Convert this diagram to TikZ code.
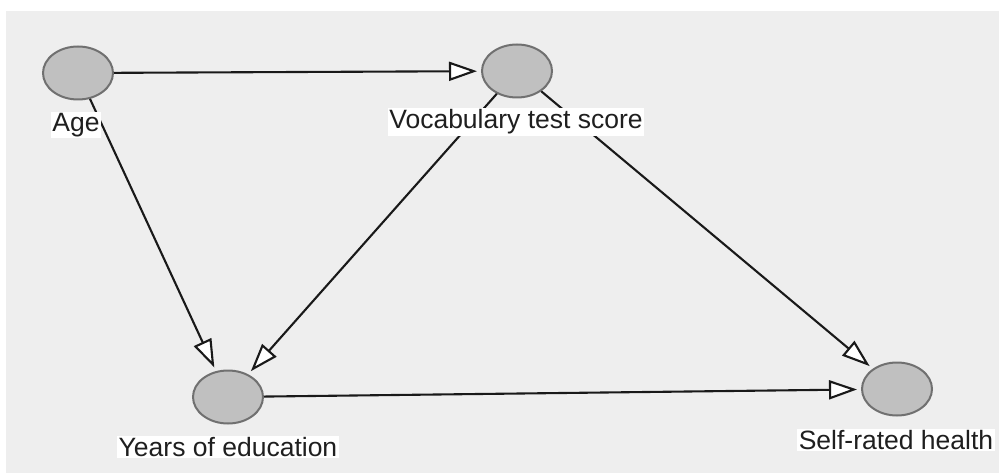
\documentclass[tikz,border=0pt]{standalone}
\usepackage{fontspec}
\setmainfont{Liberation Sans}
\usetikzlibrary{shapes.geometric,arrows.meta}
\definecolor{bggray}{HTML}{EEEEEE}
\definecolor{nodefill}{HTML}{C0C0C0}
\definecolor{nodeline}{HTML}{707070}
\tikzset{
  var/.style={ellipse,draw=nodeline,line width=2pt,fill=nodefill,minimum width=70pt,minimum height=53pt,inner sep=0pt},
  lbl/.style={fill=white,inner sep=1.5pt,font=\fontsize{26.5}{29}\selectfont,text=black!88},
  edge/.style={line width=2.1pt,black!90,shorten >=4pt,-{Triangle[length=28pt,width=19pt,fill=white,line width=2.1pt]}}
}
\begin{document}
\begin{tikzpicture}[x=1pt,y=-1pt]
\useasboundingbox (0,0) rectangle (999,473);
\fill[white] (0,0) rectangle (999,473);
\fill[bggray] (6,11) rectangle (999,473);
\node[var] (age) at (78,73) {};
\node[var] (voc) at (517,71) {};
\node[var] (yrs) at (228,397) {};
\node[var] (shr) at (897,389) {};
\draw[edge] (age) -- (voc);
\draw[edge] (age) -- (yrs);
\draw[edge] (voc) -- (yrs);
\draw[edge] (voc) -- (shr);
\draw[edge] (yrs) -- (shr);
\node[lbl] (agel) at (76,125) {Age};
\node[lbl] (vocl) at (516,122) {Vocabulary test score};
\node[lbl] (yrsl) at (228,447) {Years of education};
\node[lbl] (shrl) at (896,440) {Self-rated health};
\end{tikzpicture}
\end{document}
